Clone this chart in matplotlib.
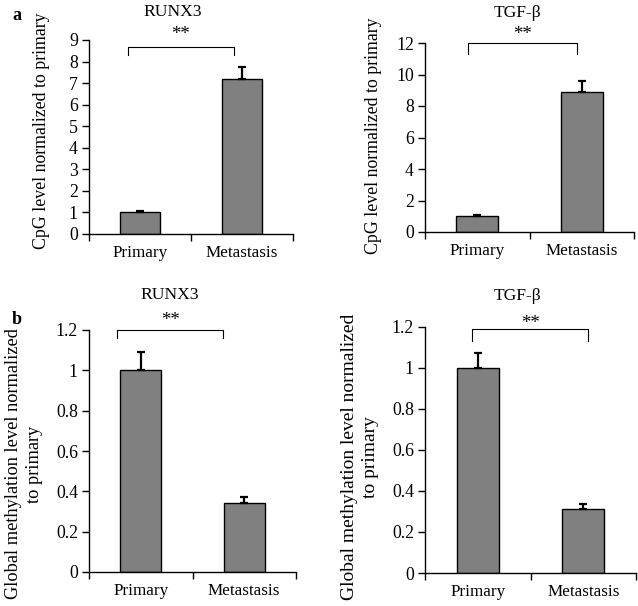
import matplotlib
matplotlib.use("Agg")
import matplotlib.pyplot as plt

plt.rcParams['font.family'] = ['Liberation Serif', 'DejaVu Serif']

categories = ["Primary", "Metastasis"]

# Panel a: CpG level
runx3_cpg = [1.0, 7.2]
runx3_cpg_err = [0.08, 0.55]
tgfb_cpg = [1.0, 8.9]
tgfb_cpg_err = [0.1, 0.7]

# Panel b: global methylation
runx3_glob = [1.0, 0.34]
runx3_glob_err = [0.09, 0.03]
tgfb_glob = [1.0, 0.31]
tgfb_glob_err = [0.075, 0.025]

W, H = 638, 606
fig = plt.figure(figsize=(W / 100, H / 100), dpi=100)


def px_axes(x0, x1, ytop, ybot):
    return fig.add_axes([x0 / W, 1 - ybot / H, (x1 - x0) / W, (ybot - ytop) / H])


def ptext(x, y, s, **kw):
    return fig.text(x / W, 1 - y / H, s, **kw)


def panel(ax, vals, errs, ymax, yticks, yticklabels, br, star_y):
    x = list(range(len(categories)))
    ax.bar(x, vals, width=0.4, color="#808080", edgecolor="black", linewidth=1.0, zorder=2)
    ax.errorbar(x, vals, yerr=[[0] * len(errs), errs], fmt="none", ecolor="black",
                elinewidth=1.6, capsize=3, capthick=1.6, zorder=3)
    ax.set_xlim(-0.5, 1.5)
    ax.set_ylim(0, ymax)
    ax.set_yticks(yticks)
    ax.set_yticklabels(yticklabels)
    ax.set_xticks(x)
    ax.set_xticklabels(categories)
    ax.set_xticks([-0.5, 0.5, 1.5], minor=True)
    ax.tick_params(axis="x", which="major", length=0, labelsize=12.3, pad=8)
    ax.tick_params(axis="x", which="minor", length=5, width=1, direction="out")
    ax.tick_params(axis="y", length=5, width=1, direction="out", labelsize=12.8, pad=3)
    for s in ["top", "right"]:
        ax.spines[s].set_visible(False)
    for s in ["left", "bottom"]:
        ax.spines[s].set_linewidth(1.0)
    bx0, bx1, btop, bleg = br
    ax.plot([bx0, bx0, bx1, bx1], [bleg, btop, btop, bleg], color="black", lw=0.8, clip_on=False)
    ax.text((bx0 + bx1) / 2, star_y, "**", ha="center", va="center", fontsize=13.5)


ax1 = px_axes(89, 293, 40, 234)
panel(ax1, runx3_cpg, runx3_cpg_err, 9, range(0, 10), [str(v) for v in range(0, 10)],
      (-0.12, 0.92, 8.68, 8.3), 9.25)

ax2 = px_axes(425, 634, 43, 232)
panel(ax2, tgfb_cpg, tgfb_cpg_err, 12, range(0, 13, 2), [str(v) for v in range(0, 13, 2)],
      (-0.09, 0.955, 12.0, 11.3), 12.52)

gt = [0, 0.2, 0.4, 0.6, 0.8, 1.0, 1.2]
gtl = ["0", "0.2", "0.4", "0.6", "0.8", "1", "1.2"]
ax3 = px_axes(89, 296, 330, 572)
panel(ax3, runx3_glob, runx3_glob_err, 1.2, gt, gtl, (-0.23, 0.795, 1.2, 1.16), 1.245)

ax4 = px_axes(425, 636, 327, 573)
panel(ax4, tgfb_glob, tgfb_glob_err, 1.2, gt, gtl, (-0.055, 1.045, 1.19, 1.13), 1.215)

# y-axis labels
ptext(42, 131, "CpG level normalized to primary", rotation=90, ha="center", va="center",
      fontsize=12.8)
ptext(373, 136, "CpG level normalized to primary", rotation=90, ha="center", va="center",
      fontsize=12.8)
ptext(24, 464, "Global methylation level normalized\nto primary", rotation=90, ha="center",
      va="center", fontsize=13.2, linespacing=1.25, multialignment="center")
ptext(360, 457, "Global methylation level normalized\nto primary", rotation=90, ha="center",
      va="center", fontsize=14, linespacing=1.25, multialignment="center")

ptext(173, 12, "RUNX3", ha="center", va="center", fontsize=12.6)
ptext(517, 13, "TGF-β", ha="center", va="center", fontsize=12.6)
ptext(170, 295, "RUNX3", ha="center", va="center", fontsize=12.6)
ptext(517, 296, "TGF-β", ha="center", va="center", fontsize=12.6)
ptext(12, 15, "a", ha="left", va="center", fontsize=13, fontweight="bold")
ptext(12, 319, "b", ha="left", va="center", fontsize=13, fontweight="bold")

fig.savefig("out.png", dpi=100)
